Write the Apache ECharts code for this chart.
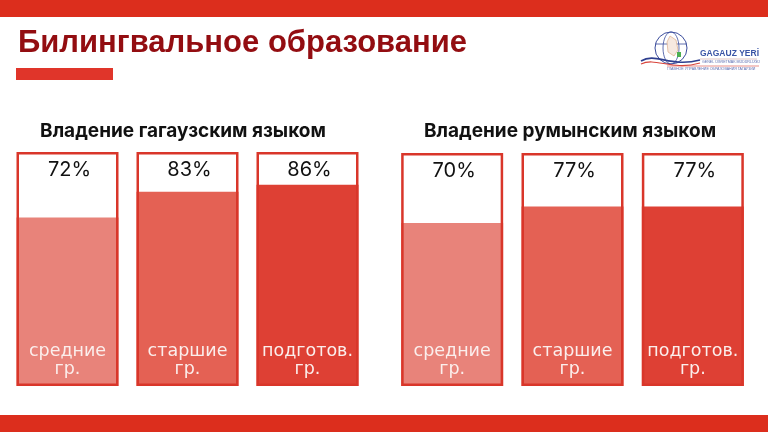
<!DOCTYPE html>
<html><head><meta charset="utf-8">
<script src="https://cdn.jsdelivr.net/npm/echarts@6/dist/echarts.min.js"></script>
<style>html,body{margin:0;padding:0;background:#fff}#c{width:768px;height:432px}</style>
</head><body><div id="c"></div>
<script>
var categories = ['средние\nгр.', 'старшие\nгр.', 'подготов.\nгр.'];
var gagauzValues = [72, 83, 86];
var romanianValues = [70, 77, 77];
var panelTitles = ['Владение гагаузским языком', 'Владение румынским языком'];
var mainTitle = 'Билингвальное образование';

var fills = ['#e8837a', '#e46154', '#de4034'];
var outline = '#d9362a';

function valueSeries(idx, vals) {
  return {
    type: 'bar', xAxisIndex: idx, yAxisIndex: idx, barWidth: 102, barGap: '-100%', z: 2,
    data: vals.map(function (v, i) {
      return { value: v, itemStyle: { color: fills[i] } };
    }),
    label: {
      show: true, position: 'insideBottom', distance: 8,
      formatter: function (p) { return categories[p.dataIndex]; },
      color: '#fbeeec', fontFamily: 'DejaVu Sans', fontSize: 17.5, lineHeight: 18
    },
    silent: true
  };
}
function outlineSeries(idx, vals) {
  return {
    type: 'bar', xAxisIndex: idx, yAxisIndex: idx, barWidth: 102, barGap: '-100%', z: 3,
    data: vals.map(function (v) {
      return { value: 100, label: { formatter: v + '%' } };
    }),
    itemStyle: { color: 'rgba(0,0,0,0)', borderColor: outline, borderWidth: 2.5 },
    label: {
      show: true, position: 'insideTop', distance: 8, offset: [2, 0],
      color: '#111', fontFamily: 'Inter', fontSize: 20
    },
    silent: true
  };
}

var chart = echarts.init(document.getElementById('c'), null, { renderer: 'canvas' });
chart.setOption({
  animation: false,
  backgroundColor: '#fff',
  title: [
    { text: mainTitle, left: 13, top: 23, textStyle: { color: '#930d11', fontFamily: 'Liberation Sans', fontWeight: 'bold', fontSize: 31 } },
    { text: panelTitles[0], left: 178, textAlign: 'center', top: 117, textStyle: { color: '#111', fontFamily: 'Inter', fontWeight: 'bold', fontSize: 19 } },
    { text: panelTitles[1], left: 565, textAlign: 'center', top: 117, textStyle: { color: '#111', fontFamily: 'Inter', fontWeight: 'bold', fontSize: 19 } }
  ],
  grid: [
    { left: 7.5, width: 360, top: 152, height: 234 },
    { left: 392, width: 361, top: 153, height: 233 }
  ],
  xAxis: [0, 1].map(function (i) {
    return { gridIndex: i, type: 'category', data: categories, show: false };
  }),
  yAxis: [0, 1].map(function (i) {
    return { gridIndex: i, type: 'value', min: 0, max: 100, show: false };
  }),
  series: [
    valueSeries(0, gagauzValues), outlineSeries(0, gagauzValues),
    valueSeries(1, romanianValues), outlineSeries(1, romanianValues)
  ],
  graphic: [
    { type: 'rect', shape: { x: 0, y: 0, width: 768, height: 17 }, style: { fill: '#dc2e1d' } },
    { type: 'rect', shape: { x: 0, y: 415, width: 768, height: 17 }, style: { fill: '#dc2e1d' } },
    { type: 'rect', shape: { x: 16, y: 68, width: 97, height: 12 }, style: { fill: '#e0352a' } },
    // logo
    { type: 'circle', shape: { cx: 671, cy: 48, r: 16 }, style: { fill: 'none', stroke: '#3a4c9c', lineWidth: 1 } },
    { type: 'ellipse', shape: { cx: 671, cy: 48, rx: 8, ry: 16 }, style: { fill: 'none', stroke: '#3a4c9c', lineWidth: 0.8 } },
    { type: 'line', shape: { x1: 655, y1: 44, x2: 687, y2: 44 }, style: { stroke: '#3a4c9c', lineWidth: 0.8 } },
    { type: 'polygon', shape: { points: [[670, 36], [676, 40], [678, 50], [674, 56], [668, 52], [667, 42]] }, style: { fill: '#f6e9e0', stroke: '#d9a27a', lineWidth: 0.6 } },
    { type: 'rect', shape: { x: 677, y: 52, width: 4, height: 5 }, style: { fill: '#4caf50' } },
    { type: 'bezierCurve', shape: { x1: 641, y1: 61, x2: 700, y2: 60, cpx1: 656, cpy1: 52, cpx2: 670, cpy2: 68 }, style: { stroke: '#2e3f8f', lineWidth: 1.6, fill: 'none' } },
    { type: 'bezierCurve', shape: { x1: 641, y1: 64, x2: 700, y2: 63, cpx1: 656, cpy1: 57, cpx2: 672, cpy2: 71 }, style: { stroke: '#d8433a', lineWidth: 1.2, fill: 'none' } },
    { type: 'text', style: { text: 'GAGAUZ YERİ', x: 700, y: 54, verticalAlign: 'middle', fill: '#3a55a6', font: 'bold 8.5px "Liberation Sans"' } },
    { type: 'line', shape: { x1: 700, y1: 59, x2: 757, y2: 59 }, style: { stroke: '#c9a0a0', lineWidth: 0.6 } },
    { type: 'text', style: { text: 'GENEL ÜĞRETMÄK MÜDÜRLÜĞÜ', x: 702, y: 62, verticalAlign: 'middle', fill: '#5a6cb0', font: '3.6px "Liberation Sans"' } },
    { type: 'line', shape: { x1: 667, y1: 66, x2: 759, y2: 66 }, style: { stroke: '#d8433a', lineWidth: 0.6 } },
    { type: 'text', style: { text: 'ГЛАВНОЕ УПРАВЛЕНИЕ ОБРАЗОВАНИЯ ГАГАУЗИИ', x: 667, y: 69, verticalAlign: 'middle', fill: '#5a6cb0', font: '3.6px "Liberation Sans"' } }
  ]
});
</script>
</body></html>
